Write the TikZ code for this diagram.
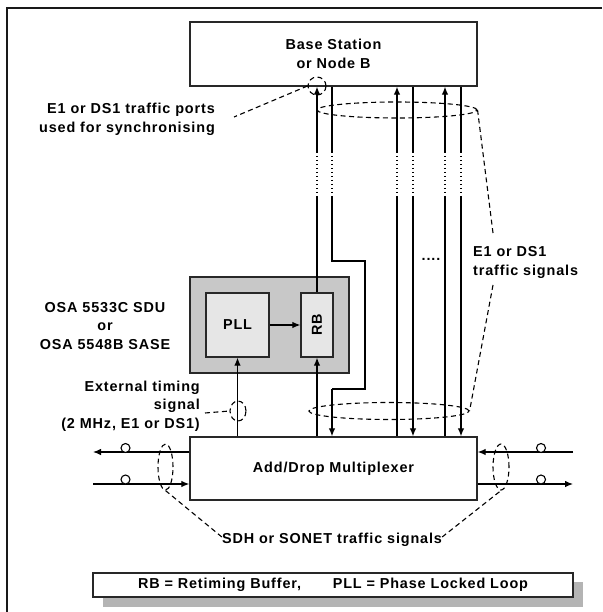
\documentclass[tikz,border=0pt]{standalone}
\usepackage{fontspec}
\setmainfont{Liberation Sans}[LetterSpace=6]
\usetikzlibrary{arrows.meta,calc,shapes.geometric}
\definecolor{outergray}{RGB}{200,200,200}
\definecolor{innergray}{RGB}{230,230,230}
\definecolor{shadowgray}{RGB}{180,180,180}
\definecolor{edgegray}{RGB}{40,40,40}
\begin{document}
\begin{tikzpicture}[x=1pt,y=-1pt,
  every node/.style={font=\fontsize{14.4}{18.5}\selectfont\bfseries, inner sep=0pt},
  box/.style={draw=edgegray, line width=1.4pt, fill=white},
  ln/.style={line width=1.15pt, black},
  arr/.style={ln, -{Latex[length=8pt,width=6.5pt]}},
  dsh/.style={line width=1.1pt, dash pattern=on 5pt off 3.5pt},
  dotl/.style={line width=1.15pt, dash pattern=on 1.5pt off 2.5pt},
  ring/.style={draw, line width=1.1pt, fill=white, circle, minimum size=9pt},
  dring/.style={draw, dsh, ellipse}
]
\useasboundingbox (0,0) rectangle (602,612);
\fill[white] (0,0) rectangle (602,612);
% frame
\draw[line width=2pt, black!90] (7,612) -- (7,8) -- (602,8);

% boxes
\node[box, minimum width=287pt, minimum height=64pt, align=center] (bs) at (333.5,54) {Base Station\\or Node B};
\node[box, minimum width=287pt, minimum height=63pt] (adm) at (333.5,468.5) {Add/Drop Multiplexer};
\node[draw=edgegray, line width=1.4pt, fill=outergray, minimum width=159pt, minimum height=96pt] (sdu) at (269.5,325) {};
\node[draw=edgegray, line width=1.3pt, fill=innergray, minimum width=63pt, minimum height=64pt] (pll) at (237.5,325) {PLL};
\node[draw=edgegray, line width=1.3pt, fill=innergray, minimum width=32pt, minimum height=64pt] (rb) at (317,325) {\rotatebox{90}{RB}};

% legend
\fill[shadowgray] (103,582) rectangle (583,607);
\node[box, minimum width=480pt, minimum height=24pt] (leg) at (333,585) {RB = Retiming Buffer,\hspace{2.2em}PLL = Phase Locked Loop};

% labels
\node[align=right, anchor=east] (pl) at (215,119.5) {E1 or DS1 traffic ports\\used for synchronising};
\node[align=center] (osa) at (105,326) {OSA 5533C SDU\\or\\OSA 5548B SASE};
\node[align=right, anchor=east] (ext) at (200,406) {External timing\\signal\\(2 MHz, E1 or DS1)};
\node[align=left, anchor=west] (ts) at (473,262.5) {E1 or DS1\\traffic signals};
\node (sdh) at (332,540) {SDH or SONET traffic signals};
\node (dots) at (431,259) {....};

% coordinates on the bundle
\foreach \n/\x in {a/317,b/332,c/397,d/413,e/445,f/461}{
  \coordinate (\n1) at (\x,152);
  \coordinate (\n2) at (\x,196);
}
% upward arrows into base station
\foreach \n in {a,c,e}{
  \draw[arr] (\n1) -- (\n1 |- bs.south);
  \draw[dotl] (\n1) -- (\n2);
}
% downward lines from base station
\foreach \n in {b,d,f}{
  \draw[ln] (\n1 |- bs.south) -- (\n1);
  \draw[dotl] (\n1) -- (\n2);
}
\draw[ln] (a2) -- (a2 |- rb.north);
\draw[ln] (c2) -- (c2 |- adm.north);
\draw[ln] (e2) -- (e2 |- adm.north);
\draw[arr] (d2) -- (d2 |- adm.north);
\draw[arr] (f2) -- (f2 |- adm.north);
% detour line
\coordinate (k1) at (332,261);
\coordinate (k2) at (365,261);
\coordinate (k3) at (365,389);
\coordinate (k4) at (332,389);
\draw[ln] (b2) -- (k1) -- (k2) -- (k3) -- (k4);
\draw[arr] (k4) -- (k4 |- adm.north);

% SDU internal
\draw[arr] (pll.east) -- (rb.west);
\draw[arr] (adm.north -| pll) -- (pll.south);
\draw[arr] (adm.north -| rb) -- (rb.south);

% line side
\coordinate (l1) at (93,452);
\coordinate (l2) at (93,484);
\coordinate (r1) at (573,452);
\coordinate (r2) at (573,484);
\draw[arr] (adm.west |- l1) -- (l1);
\draw[arr] (l2) -- (adm.west |- l2);
\draw[arr] (r1) -- (adm.east |- r1);
\draw[arr] (adm.east |- r2) -- (r2);
\node[ring] (o1) at (125.5,448) {};
\node[ring] (o2) at (125.5,479.5) {};
\node[ring] (o3) at (541,448) {};
\node[ring] (o4) at (541,479.5) {};

% dashed rings
\node[dring, minimum width=160pt, minimum height=16pt] (te) at (397,110) {};
\node[dring, minimum width=160pt, minimum height=17pt] (be) at (389,411) {};
\node[dring, minimum width=18pt, minimum height=18pt] (pc) at (317,86) {};
\node[dring, minimum width=16pt, minimum height=20pt] (xc) at (238,411) {};
\node[dring, minimum width=15pt, minimum height=46pt] (le) at (165.5,467) {};
\node[dring, minimum width=16pt, minimum height=46pt] (re) at (501,467) {};

% dashed leaders
\coordinate (tsA) at (493,233);
\coordinate (tsB) at (493,285);
\draw[dsh] (te.east) -- (tsA);
\draw[dsh] (tsB) -- (be.east);
\draw[dsh] (pc.west) -- ($(pl.east)+(19,-2.5)$);
\draw[dsh] ($(ext.east)+(5,7)$) -- (xc.west);
\draw[dsh] (le.south) -- ($(sdh.west)+(0,-3)$);
\draw[dsh] ($(sdh.east)+(0,-3)$) -- (re.south);
\end{tikzpicture}
\end{document}
